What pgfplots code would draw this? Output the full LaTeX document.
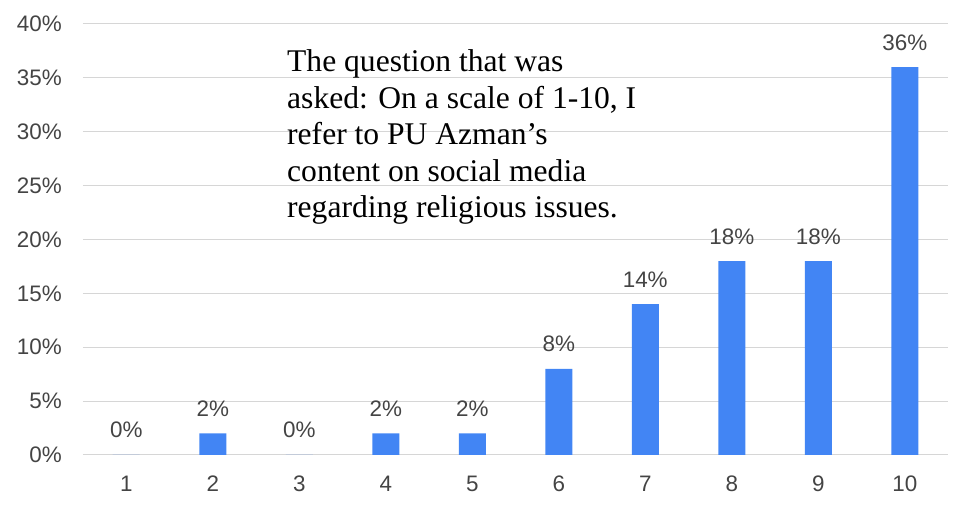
\documentclass[border=0pt]{standalone}
\usepackage{pgfplots}
\pgfplotsset{compat=1.18}
\usepackage{fontspec}
\setmainfont{Liberation Sans}
\newfontfamily\serif{Liberation Serif}
\definecolor{barblue}{HTML}{4285F4}
\definecolor{txtgray}{HTML}{444444}
\definecolor{gridgray}{HTML}{D6D6D6}
\begin{document}
\begin{tikzpicture}
\useasboundingbox (-83bp,-51bp) rectangle (882bp,455bp);
\begin{axis}[
  at={(0,0)}, anchor=origin,
  scale only axis,
  width=865bp, height=431bp,
  xmin=0.5, xmax=10.5, ymin=0, ymax=40,
  ybar, bar width=27bp,
  axis line style={draw=none},
  major tick length=0pt,
  ymajorgrids, grid style={gridgray, line width=1bp},
  xtick={1,...,10},
  ytick={0,5,...,40},
  /pgf/number format/assume math mode=true,
  yticklabel={\pgfmathprintnumber{\tick}\%},
  ticklabel style={font=\fontsize{22.5}{25}\selectfont, text=txtgray},
  yticklabel style={anchor=east, inner sep=0pt, xshift=-21bp},
  xticklabel style={anchor=base, inner sep=0pt, yshift=-37bp},
  nodes near coords={\pgfmathprintnumber{\pgfplotspointmeta}\%},
  every node near coord/.append style={font=\fontsize{22.5}{25}\selectfont, text=txtgray, anchor=base, inner sep=0pt, yshift=17bp},
]
\addplot[fill=barblue, draw=none] coordinates {
(1,0) (2,2) (3,0) (4,2) (5,2) (6,8) (7,14) (8,18) (9,18) (10,36)
};
\end{axis}
\begin{scope}[every node/.style={anchor=base west, inner sep=0pt, font=\serif\fontsize{31.7}{36}\selectfont, text=black}]
\node at (204bp,383bp) {The question that was};
\node at (204bp,346.5bp) {asked: On a scale of 1-10, I};
\node at (204bp,310bp) {refer to PU Azman’s};
\node at (204bp,273.5bp) {content on social media};
\node at (204bp,237bp) {regarding religious issues.};
\end{scope}
\end{tikzpicture}
\end{document}
